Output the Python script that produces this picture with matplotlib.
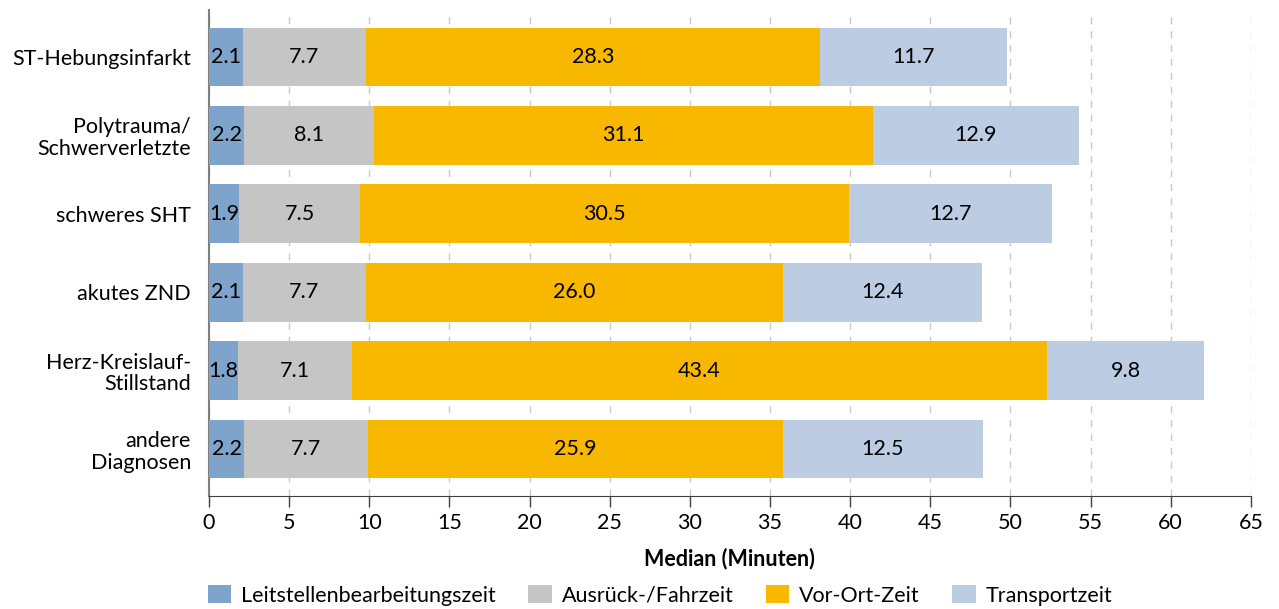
import numpy as np
import matplotlib.pyplot as plt

plt.rcParams['font.family'] = ['Lato', 'DejaVu Sans']

categories = ['ST-Hebungsinfarkt', 'Polytrauma/\nSchwerverletzte', 'schweres SHT',
              'akutes ZND', 'Herz-Kreislauf-\nStillstand', 'andere\nDiagnosen']
leitstelle = [2.1, 2.2, 1.9, 2.1, 1.8, 2.2]
fahrzeit = [7.7, 8.1, 7.5, 7.7, 7.1, 7.7]
vor_ort = [28.3, 31.1, 30.5, 26.0, 43.4, 25.9]
transport = [11.7, 12.9, 12.7, 12.4, 9.8, 12.5]

series = [leitstelle, fahrzeit, vor_ort, transport]
names = ['Leitstellenbearbeitungszeit', 'Ausrück-/Fahrzeit', 'Vor-Ort-Zeit', 'Transportzeit']
colors = ['#7FA4CB', '#C5C5C5', '#F9B800', '#BCCCE3']
fs = 15.5

fig = plt.figure(figsize=(12.79, 6.09), dpi=100)
ax = fig.add_axes([0.1634, 0.1856, 0.8146, 0.798])

y = np.arange(len(categories))
left = np.zeros(len(categories))
for vals, name, col in zip(series, names, colors):
    vals = np.array(vals)
    ax.barh(y, vals, left=left, height=0.75, color=col, label=name, zorder=3)
    for yi, l, v in zip(y, left, vals):
        ax.text(l + v / 2, yi, f'{v:.1f}', ha='center', va='center', fontsize=fs, color='black', zorder=4)
    left += vals

ax.set_yticks(y)
ax.set_yticklabels(categories, fontsize=fs, linespacing=1.1)
ax.set_ylim(5.6, -0.6)
ax.set_xlim(0, 65)
ax.set_xticks(np.arange(0, 66, 5))
ax.tick_params(axis='x', labelsize=fs, length=8, width=1, color='#404040', direction='out', pad=4)
ax.tick_params(axis='y', length=0, pad=13)
ax.grid(axis='x', linestyle=(0, (5, 5)), color='#C8C8C8', linewidth=1, zorder=0)
for s in ['top', 'right']:
    ax.spines[s].set_visible(False)
ax.spines['left'].set_color('#7F7F7F')
ax.spines['left'].set_linewidth(1.5)
ax.spines['bottom'].set_color('#404040')
ax.set_xlabel('Median (Minuten)', fontsize=fs, fontweight='bold', labelpad=11)

fig.legend(loc='center', bbox_to_anchor=(0.516, 0.022), ncol=4, frameon=False, fontsize=fs,
           handlelength=1.1, handleheight=0.9, columnspacing=1.5, handletextpad=0.45,
           borderpad=0, borderaxespad=0)

plt.savefig('out.png', dpi=100)
